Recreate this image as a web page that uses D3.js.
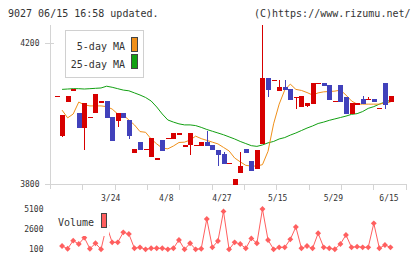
<!DOCTYPE html>
<html><head><meta charset="utf-8">
<script src="https://cdn.jsdelivr.net/npm/d3@7"></script>
<style>
html,body{margin:0;padding:0;background:#fff;}
svg{display:block;}
text{font-family:"DejaVu Sans Mono",monospace;font-size:10px;fill:#333;}
text.ax{font-size:8px;}
</style></head>
<body>
<svg id="c" width="420" height="259"></svg>
<script>
// ---- data ----
const opens  = [4050,3937,4034,4069,4002,3960,3990,4003,4035,4036,3990,3980,4001,3982,3889,3919,3899,3878,3873,3925,3930,3929,3944,3910,3910,3911,3909,3919,3911,3897,3885,3859,3798,3832,3900,3865,3844,3914,4101,4095,4064,4076,4070,4048,4019,4022,4027,4087,4087,4081,4036,4081,4047,3999,4029,4042,4042,4042,4016,4087,4033];
const highs  = [4050,3996,4050,4069,4002,4030,3990,4056,4035,4036,3990,4001,4001,3982,3899,3919,3899,3931,3873,3925,3930,3945,3944,3910,3945,3911,3919,3951,3911,3897,3891,3859,3813,3891,3900,3865,3897,4252,4101,4095,4095,4095,4070,4048,4050,4029,4087,4087,4087,4081,4036,4081,4047,4030,4029,4050,4047,4042,4016,4087,4050];
const lows   = [4050,3935,4034,4069,3960,3898,3990,4003,4035,3988,3923,3963,3988,3929,3889,3897,3899,3878,3873,3895,3930,3929,3944,3910,3882,3911,3909,3909,3897,3852,3858,3859,3798,3832,3889,3838,3844,3914,4048,4095,4064,4067,4039,4013,4019,4019,4027,4087,4079,4039,4036,4033,3999,3999,4029,4027,4042,4033,4016,4013,4033];
const closes = [4050,3996,4050,4069,3960,4030,3990,4056,4035,3988,3923,4001,3988,3937,3899,3897,3899,3931,3873,3895,3930,3945,3944,3910,3945,3911,3919,3909,3897,3883,3858,3859,3813,3851,3889,3838,3897,4101,4067,4095,4076,4067,4039,4048,4050,4029,4087,4087,4079,4039,4036,4033,3999,4030,4029,4027,4042,4033,4016,4025,4050];
// moving averages and volume start at day index 1
const ma5  = [4010,3988,3999,4033,4025,4022,4022,4022,4020,4013,3999,3996,3982,3968,3949,3947,3928,3914,3902,3900,3908,3918,3919,3925,3936,3929,3924,3919,3914,3904,3894,3874,3863,3853,3851,3851,3855,3893,3971,4027,4067,4084,4069,4066,4060,4053,4059,4062,4063,4064,4067,4053,4036,4027,4027,4027,4027,4027,4030,4033];
const ma25 = [4069,4070,4071,4071,4070,4071,4072,4073,4078,4075,4071,4067,4065,4059,4053,4046,4036,4019,3999,3982,3976,3971,3968,3968,3966,3961,3955,3950,3945,3940,3934,3928,3921,3915,3909,3907,3911,3917,3921,3928,3932,3939,3945,3952,3959,3965,3972,3976,3981,3985,3989,3993,3998,4000,4006,4015,4020,4027,4033,4038];
const volumes = [440,100,1110,690,1490,100,780,30,3000,900,900,2160,1950,150,270,20,150,150,150,20,150,1200,20,780,20,100,3840,270,1070,4800,20,900,690,150,1400,780,5100,1200,20,270,270,1280,2830,150,440,150,2040,270,150,30,690,1830,270,360,270,270,3290,150,570,270];
const dateTickIdx = [10,20,30,40,50,60];
const dateTickLabels = ["3/24","4/8","4/27","5/15","5/29","6/15"];
const priceTicks = [4200,3800];
const volTicks = [5100,2600,100];

// ---- drawing ----
const svg = d3.select("#c");
const n = opens.length;
const days = d3.range(n);
const x = d3.scalePoint().domain(days).range([56.5, 390.5]);
const y = d3.scaleLinear().domain([3800,4200]).range([184,43.3]);
const yv = d3.scaleLinear().domain([100,5100]).range([248.7,209]);
const grid = d3.scaleLinear().domain([0,11]).range([50,405.7]);

const RED="#d70000", BLUE="#4141bb", ORANGE="#f0901a", GREEN="#12a012", AX="#d4d4d4";

// header
svg.append("text").attr("x",8).attr("y",17).text("9027 06/15 16:58 updated.");
svg.append("text").attr("x",410.5).attr("y",17).attr("text-anchor","end").text("(C)https://www.rizumu.net/");

// axes
const ax = svg.append("g").attr("shape-rendering","crispEdges").attr("stroke",AX).attr("fill","none");
ax.append("line").attr("x1",50.5).attr("x2",50.5).attr("y1",25).attr("y2",189);
ax.append("line").attr("x1",45).attr("x2",406).attr("y1",Math.round(y(3800))+0.5).attr("y2",Math.round(y(3800))+0.5);
ax.selectAll(".gt").data(d3.range(1,12)).enter().append("line")
  .attr("x1",d=>Math.round(grid(d))+0.5).attr("x2",d=>Math.round(grid(d))+0.5)
  .attr("y1",184).attr("y2",190);
ax.selectAll(".pt").data(priceTicks).enter().append("line")
  .attr("x1",45).attr("x2",54).attr("y1",d=>Math.round(y(d))+0.5).attr("y2",d=>Math.round(y(d))+0.5);

svg.selectAll(".pl").data(priceTicks).enter().append("text").attr("class","ax")
  .attr("x",39.5).attr("y",d=>y(d)+3).attr("text-anchor","end").text(d=>d);
svg.selectAll(".dl").data(dateTickIdx).enter().append("text").attr("class","ax")
  .attr("x",d=>x(d)-1.5).attr("y",201).attr("text-anchor","middle").text((d,i)=>dateTickLabels[i]);

// MA lines
const maLine = arr => d3.line().x((d,i)=>x(i+1)).y(d=>y(d))(arr);
svg.append("path").attr("d",maLine(ma25)).attr("fill","none").attr("stroke",GREEN).attr("stroke-width",1);
svg.append("path").attr("d",maLine(ma5)).attr("fill","none").attr("stroke",ORANGE).attr("stroke-width",1);

// candles
const cg = svg.append("g").attr("shape-rendering","crispEdges");
days.forEach(i=>{
  const up = closes[i] >= opens[i];
  const col = up ? RED : BLUE;
  const cx = Math.round(x(i));
  if (highs[i] > lows[i]) {
    cg.append("line").attr("x1",cx+0.5).attr("x2",cx+0.5)
      .attr("y1",y(highs[i])).attr("y2",y(lows[i])).attr("stroke",col);
  }
  const top = y(Math.max(opens[i],closes[i])), bot = y(Math.min(opens[i],closes[i]));
  cg.append("rect").attr("x",cx-2).attr("width",5)
    .attr("y",top).attr("height",Math.max(1.2,bot-top)).attr("fill",col);
});

// legend (price)
const lg = svg.append("g");
lg.append("rect").attr("x",65.5).attr("y",30.5).attr("width",78).attr("height",47)
  .attr("fill","#fff").attr("stroke","#d0d0d0").attr("shape-rendering","crispEdges");
lg.append("text").attr("x",125).attr("y",50).attr("text-anchor","end").text("5-day MA");
lg.append("text").attr("x",125).attr("y",67.5).attr("text-anchor","end").text("25-day MA");
lg.append("rect").attr("x",131.5).attr("y",37.5).attr("width",6).attr("height",14)
  .attr("fill",ORANGE).attr("stroke","#444").attr("shape-rendering","crispEdges");
lg.append("rect").attr("x",131.5).attr("y",54.5).attr("width",6).attr("height",14)
  .attr("fill",GREEN).attr("stroke","#444").attr("shape-rendering","crispEdges");

// volume
const VC = "#ff5f5f";
const vline = d3.line().x((d,i)=>x(i+1)).y(d=>yv(d));
svg.append("path").attr("d",vline(volumes)).attr("fill","none").attr("stroke",VC).attr("stroke-width",1);
svg.selectAll(".vm").data(volumes).enter().append("path")
  .attr("transform",(d,i)=>`translate(${x(i+1)},${yv(d)})`)
  .attr("d",d3.symbol(d3.symbolDiamond2,22)).attr("fill",VC);
svg.selectAll(".vl").data(volTicks).enter().append("text").attr("class","ax")
  .attr("x",43.5).attr("y",d=>yv(d)+3).attr("text-anchor","end").text(d=>d);
// volume legend
svg.append("rect").attr("x",56).attr("y",212).attr("width",53).attr("height",24).attr("fill","#fff");
svg.append("text").attr("x",58).attr("y",226).text("Volume");
svg.append("rect").attr("x",101.5).attr("y",213.5).attr("width",5).attr("height",14)
  .attr("fill",VC).attr("stroke","#444").attr("shape-rendering","crispEdges");
</script>
</body></html>
